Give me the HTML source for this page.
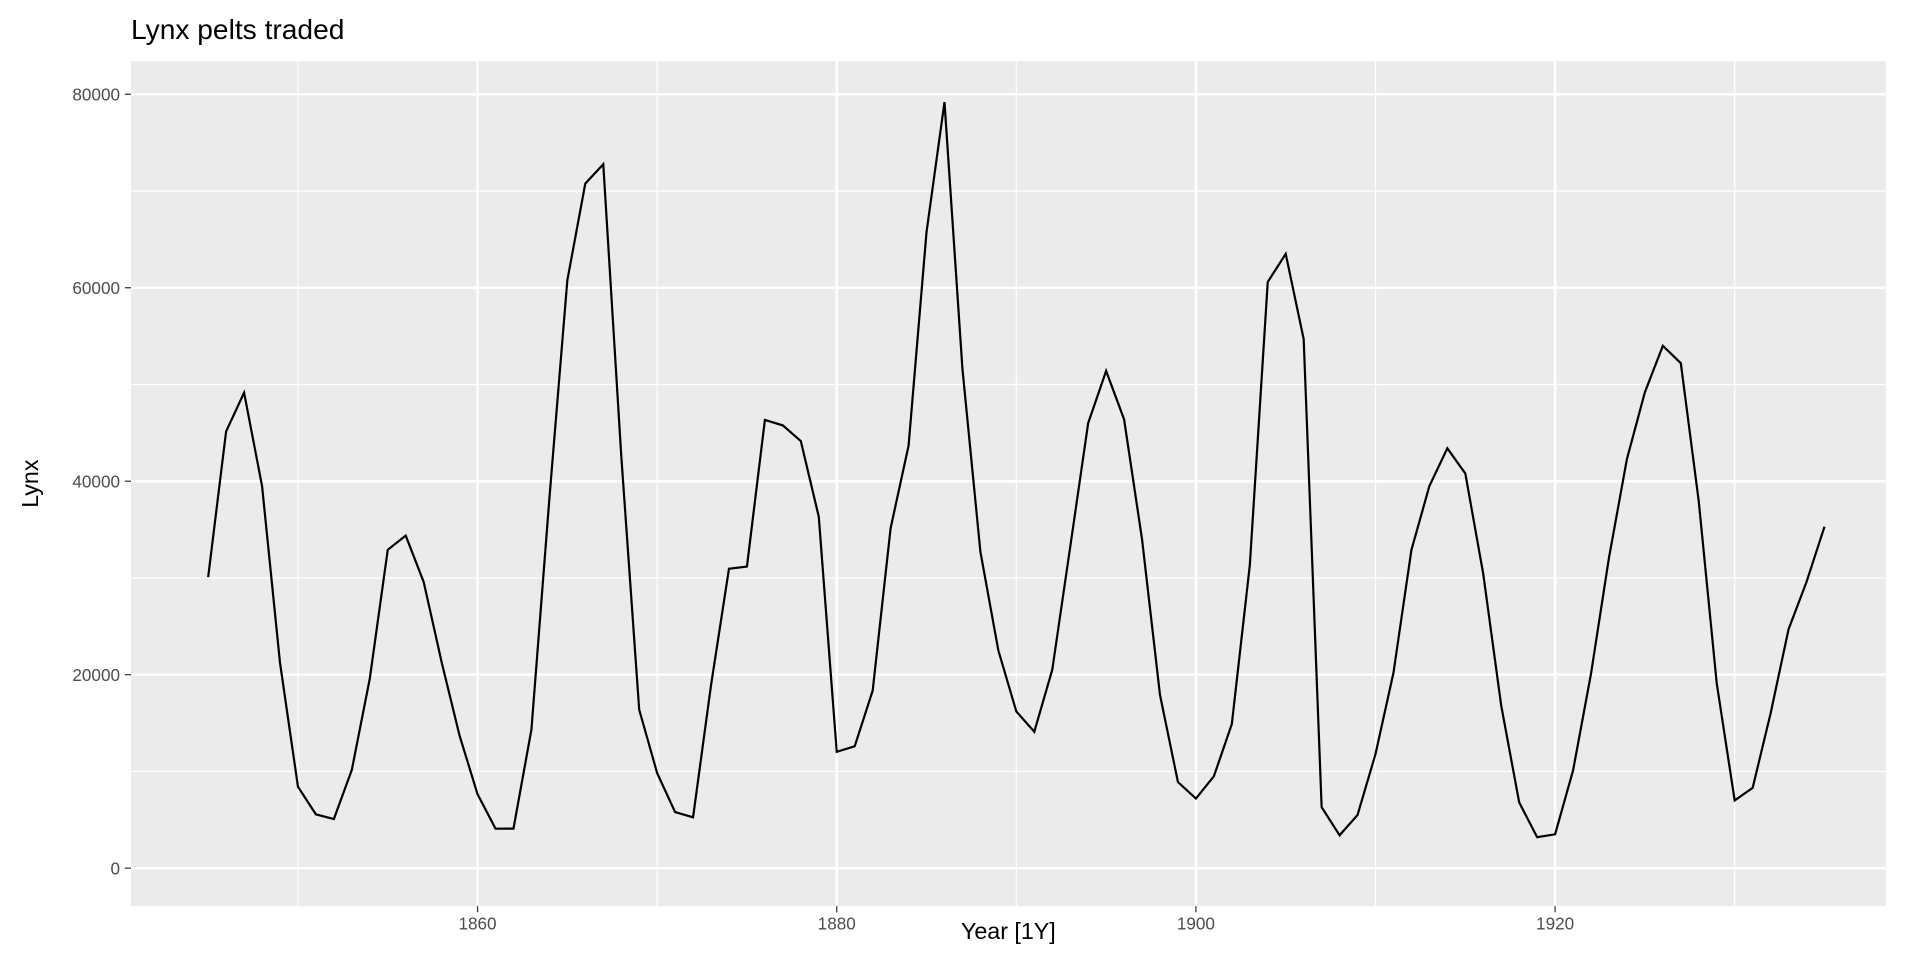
<!DOCTYPE html>
<html><head><meta charset="utf-8"><style>
body{margin:0;background:#fff;font-family:"Liberation Sans",sans-serif}
svg{display:block}
</style></head><body>
<svg width="1920" height="960" viewBox="0 0 1568 784" id="c"></svg>
<script>
const years=[];for(let y=1845;y<=1935;y++)years.push(y);
const lynx=[30090,45150,49150,39520,21230,8420,5560,5080,10170,19600,32910,34380,29590,21300,13690,7650,4080,4090,14330,38220,60780,70770,72770,42680,16390,9830,5800,5260,18910,30950,31180,46340,45770,44150,36330,12030,12600,18340,35140,43670,65770,79190,51600,32700,22500,16200,14100,20500,33200,46000,51400,46400,34000,17900,8900,7200,9500,14900,31300,60600,63500,54700,6300,3400,5500,11800,20200,32900,39500,43400,40800,30400,16800,6800,3200,3500,10100,20100,32100,42300,49200,54000,52200,37900,19100,7000,8300,16000,24700,29600,35300];
const xTicks=[1860,1880,1900,1920];
const yTicks=[0,20000,40000,60000,80000];
const NS='http://www.w3.org/2000/svg';
const svg=document.getElementById('c');
const L=107,R=1540,T=50,B=740;
const x=v=>390+(v-1860)*(1270-390)/60;
const y=v=>709-v*(709-77)/80000;
function el(t,a,p){const e=document.createElementNS(NS,t);for(const k in a)e.setAttribute(k,a[k]);(p||svg).appendChild(e);return e;}
const bg=el('rect',{x:L,y:T,width:R-L,height:B-T,fill:'#ebebeb'});


for(let v=10000;v<80000;v+=20000){const g=el('line',{x1:L,x2:R,y1:y(v),y2:y(v),stroke:'#fff','stroke-width':1});

}
for(let v=1850;v<=1930;v+=20){const g=el('line',{x1:x(v),x2:x(v),y1:T,y2:B,stroke:'#fff','stroke-width':1});

}
yTicks.forEach(v=>{const g=el('line',{x1:L,x2:R,y1:y(v),y2:y(v),stroke:'#fff','stroke-width':2});


el('line',{x1:L-5,x2:L,y1:y(v),y2:y(v),stroke:'#333','stroke-width':1});
const t=el('text',{x:L-9,y:y(v)+5,'text-anchor':'end','font-size':14,fill:'#4d4d4d'});t.textContent=v;

});
xTicks.forEach(v=>{const g=el('line',{x1:x(v),x2:x(v),y1:T,y2:B,stroke:'#fff','stroke-width':2});


el('line',{x1:x(v),x2:x(v),y1:B,y2:B+5,stroke:'#333','stroke-width':1});
const t=el('text',{x:x(v),y:B+19,'text-anchor':'middle','font-size':14,fill:'#4d4d4d'});t.textContent=v;

});
const p=el('polyline',{points:years.map((yr,i)=>x(yr)+','+y(lynx[i])).join(' '),fill:'none',stroke:'#000','stroke-width':1.8});


let t=el('text',{x:107,y:32,'font-size':23,fill:'#000'});t.textContent='Lynx pelts traded';


t=el('text',{x:(L+R)/2,y:B+27,'text-anchor':'middle','font-size':19,fill:'#000'});t.textContent='Year [1Y]';


t=el('text',{x:0,y:0,'text-anchor':'middle','font-size':19,fill:'#000',transform:`translate(31,${(T+B)/2}) rotate(-90)`});t.textContent='Lynx';


</script></body></html>
